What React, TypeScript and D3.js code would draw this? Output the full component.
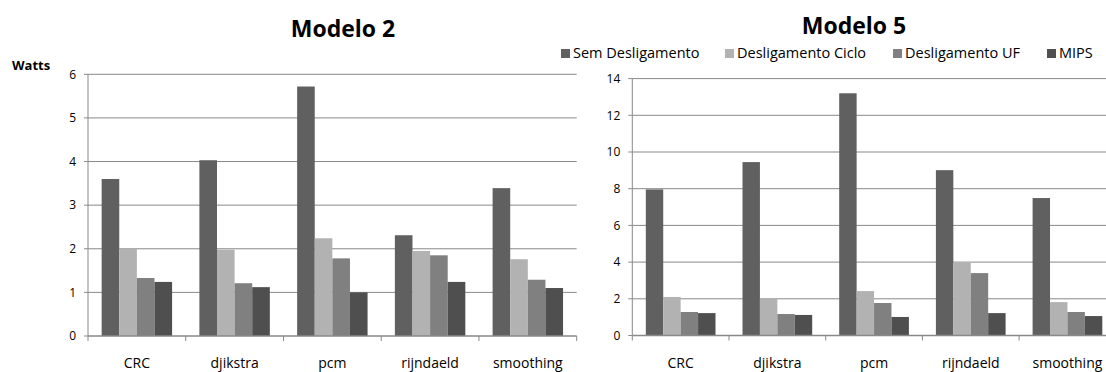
import React from "react";
import * as d3 from "d3";

const categories = ["CRC", "djikstra", "pcm", "rijndaeld", "smoothing"];
const seriesNames = ["Sem Desligamento", "Desligamento Ciclo", "Desligamento UF", "MIPS"];
const seriesColors = ["#606060", "#b2b2b2", "#808080", "#4f4f4f"];

const modelo2Sem = [3.6, 4.03, 5.72, 2.31, 3.39];
const modelo2Ciclo = [2.01, 1.98, 2.24, 1.95, 1.76];
const modelo2UF = [1.33, 1.21, 1.78, 1.85, 1.29];
const modelo2MIPS = [1.24, 1.12, 1.0, 1.24, 1.1];

const modelo5Sem = [7.96, 9.45, 13.2, 9.01, 7.49];
const modelo5Ciclo = [2.1, 2.04, 2.42, 3.97, 1.82];
const modelo5UF = [1.28, 1.17, 1.77, 3.4, 1.28];
const modelo5MIPS = [1.22, 1.12, 1.01, 1.22, 1.06];

const ticksModelo2 = [0, 1, 2, 3, 4, 5, 6];
const ticksModelo5 = [0, 2, 4, 6, 8, 10, 12, 14];

const FONT = "'Open Sans', 'Noto Sans', sans-serif";
const AXIS = "#898989";

type PanelProps = {
  title: string;
  titleX: number;
  titleY: number;
  x0: number;
  x1: number;
  yZero: number;
  yTop: number;
  maxV: number;
  ticks: number[];
  series: number[][];
};

function Panel(p: PanelProps) {
  const x = d3.scaleBand<string>().domain(categories).range([p.x0, p.x1]).padding(0);
  const y = d3.scaleLinear().domain([0, p.maxV]).range([p.yZero, p.yTop]);
  const bw = x.bandwidth();
  const barW = bw / 5.55;
  const gap = bw - barW * 4;
  const inner = d3
    .scaleBand<string>()
    .domain(seriesNames)
    .range([gap / 2, gap / 2 + barW * 4])
    .padding(0);
  const boundaries = categories.map((c) => x(c) as number).concat([p.x1]);
  return (
    <g>
      <text
        x={p.titleX}
        y={p.titleY}
        textAnchor="middle"
        fontFamily={FONT}
        fontWeight="bold"
        fontSize={23}
        fill="#000"
      >
        {p.title}
      </text>
      {p.ticks.map((t) => (
        <g key={t}>
          {t > 0 && (
            <line x1={p.x0} x2={p.x1} y1={y(t)} y2={y(t)} stroke={AXIS} strokeWidth={1} />
          )}
          <line x1={p.x0 - 4} x2={p.x0} y1={y(t)} y2={y(t)} stroke={AXIS} strokeWidth={1} />
          <text
            x={p.x0 - 12}
            y={y(t)}
            dy="0.35em"
            textAnchor="end"
            fontFamily={FONT}
            fontSize={12}
            fill="#000"
          >
            {t}
          </text>
        </g>
      ))}
      {categories.map((c, ci) =>
        seriesNames.map((s, si) => {
          const v = p.series[si][ci];
          return (
            <rect
              key={c + s}
              x={(x(c) as number) + (inner(s) as number)}
              y={y(v)}
              width={inner.bandwidth()}
              height={y(0) - y(v)}
              fill={seriesColors[si]}
            />
          );
        })
      )}
      <line x1={p.x0} x2={p.x0} y1={p.yTop} y2={p.yZero} stroke={AXIS} strokeWidth={1} />
      <line x1={p.x0} x2={p.x1} y1={p.yZero} y2={p.yZero} stroke={AXIS} strokeWidth={1.5} />
      {boundaries.map((b, i) => (
        <line key={i} x1={b} x2={b} y1={p.yZero} y2={p.yZero + 5} stroke={AXIS} strokeWidth={1} />
      ))}
      {categories.map((c) => (
        <text
          key={c}
          x={(x(c) as number) + bw / 2}
          y={368}
          textAnchor="middle"
          fontFamily={FONT}
          fontSize={14}
          fill="#000"
        >
          {c}
        </text>
      ))}
    </g>
  );
}

export default function App() {
  const legendX = [561, 725, 893, 1047];
  return (
    <svg
      width={1106}
      height={372}
      style={{ position: "absolute", left: 0, top: 0, background: "#fff" }}
    >
      <rect x={0} y={0} width={1106} height={372} fill="#fff" />
      <text x={12} y={70} fontFamily={FONT} fontWeight="bold" fontSize={13} fill="#000">
        Watts
      </text>
      <Panel
        title="Modelo 2"
        titleX={343}
        titleY={37}
        x0={88}
        x1={576.7}
        yZero={336}
        yTop={74.3}
        maxV={6}
        ticks={ticksModelo2}
        series={[modelo2Sem, modelo2Ciclo, modelo2UF, modelo2MIPS]}
      />
      <Panel
        title="Modelo 5"
        titleX={854}
        titleY={34}
        x0={632.3}
        x1={1115.8}
        yZero={335.5}
        yTop={78.6}
        maxV={14}
        ticks={ticksModelo5}
        series={[modelo5Sem, modelo5Ciclo, modelo5UF, modelo5MIPS]}
      />
      {seriesNames.map((s, i) => (
        <g key={s}>
          <rect x={legendX[i]} y={49} width={9} height={9} fill={seriesColors[i]} />
          <text x={legendX[i] + 12} y={58} fontFamily={FONT} fontSize={14.5} fill="#000">
            {s}
          </text>
        </g>
      ))}
    </svg>
  );
}
